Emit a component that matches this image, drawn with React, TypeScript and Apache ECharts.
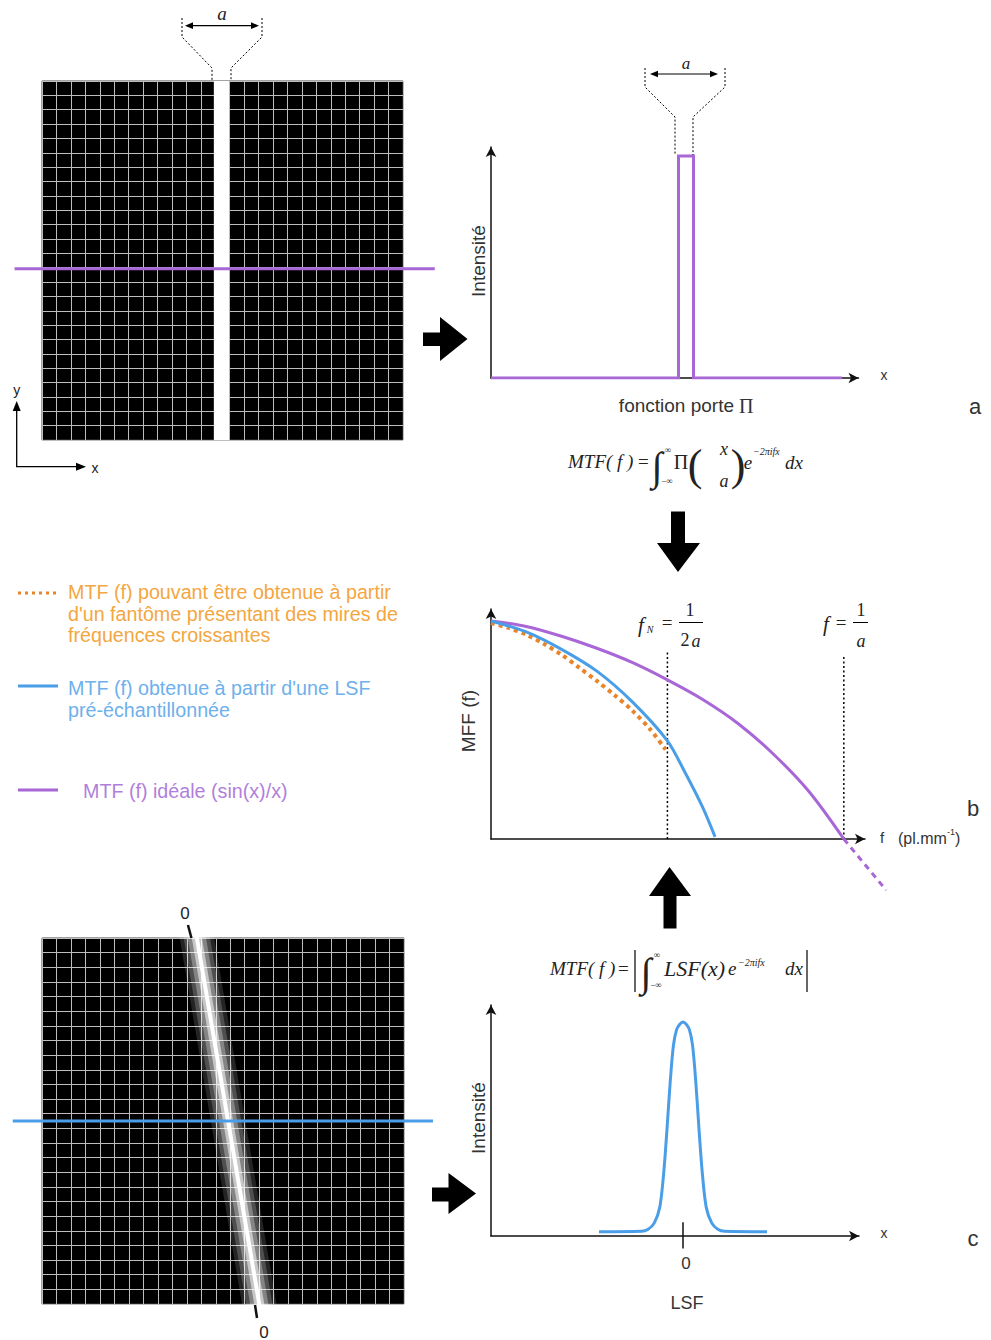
import React, { useEffect, useRef } from 'react';
import * as echarts from 'echarts';

// ---------------- data ----------------
const GRID_CELLS = 25;
// Panel a – slit phantom image (cell units)
const slitEdges = [11.9, 12.95];
const profileRowA = 11.93;
const profileSpanA = [-1.9, 27.2];
// Panel a – gate function Π (x in units of a)
const gateX = [-13, -0.5, -0.5, 0.5, 0.5, 10.4];
const gateY = [0, 0, 1, 1, 0, 0];
// Panel b – MTF curves (f in units of 1/a)
const idealF = [0, 0.1, 0.2, 0.3, 0.4, 0.5, 0.6, 0.7, 0.8, 0.9, 1.0];
const idealMTF = [1.0, 0.975, 0.93, 0.875, 0.81, 0.73, 0.64, 0.53, 0.39, 0.22, 0.0];
const idealTailF = [1.0, 1.12];
const idealTailMTF = [0.0, -0.235];
const lsfMtfF = [0, 0.1, 0.2, 0.3, 0.4, 0.5, 0.55, 0.6, 0.635];
const lsfMtfV = [1.0, 0.95, 0.87, 0.77, 0.63, 0.45, 0.305, 0.145, 0.01];
const phantomF = [0, 0.05, 0.1, 0.15, 0.2, 0.25, 0.3, 0.35, 0.4, 0.45, 0.495];
const phantomMTF = [0.99, 0.968, 0.937, 0.895, 0.845, 0.786, 0.725, 0.66, 0.59, 0.505, 0.41];
const markerF = [0.5, 1.0];
const markerTop = [0.86, 0.835];
// Panel c – slanted line phantom image (cell units)
const lineSpreadX = [10.49, 15.21];
const lineSpreadY = [26.2, -1.2];
const profileRowC = 12.5;
const profileSpanC = [-2.02, 27.0];
const zeroTickTopX = [10.08, 10.32];
const zeroTickTopY = [25.89, 25.0];
const zeroTickBotX = [14.71, 14.85];
const zeroTickBotY = [-0.07, -0.96];
// Panel c – LSF profile
const lsfX = [-5.25, -2.6, -2.2, -1.8, -1.45, -1.2, -1.0, -0.8, -0.6, -0.4, -0.2, 0, 0.2, 0.4, 0.6, 0.8, 1.0, 1.2, 1.45, 1.8, 2.2, 2.6, 5.25];
const lsfI = [0.02, 0.022, 0.03, 0.06, 0.135, 0.3, 0.5, 0.72, 0.89, 0.965, 0.99, 1.0, 0.99, 0.965, 0.89, 0.72, 0.5, 0.3, 0.135, 0.06, 0.03, 0.022, 0.02];
const lsfTickY = [-0.058, 0.064];

// ---------------- colours ----------------
const PURPLE = '#A866D6';
const BLUE = '#4A9EE8';
const ORANGE = '#E8852A';

const zip = (xs: number[], ys: number[]) => xs.map((x, i) => [x, ys[i]]);

const SANS = '"Liberation Sans", Arial, "DejaVu Sans", sans-serif';
const SERIF = '"Liberation Serif", "DejaVu Serif", serif';

function T(text: string, x: number, y: number, size: number, o: any = {}) {
  const family = o.serif ? SERIF : SANS;
  const font = `${o.italic ? 'italic ' : ''}${size}px ${family}`;
  const align = o.align || 'center';
  const va = o.va || 'middle';
  return {
    type: 'text', x, y, rotation: o.rot || 0, silent: true, z: 20,
    style: { text, x: 0, y: 0, font, fill: o.color || '#222', align, verticalAlign: va, textAlign: align, textVerticalAlign: va },
  };
}
function L(x1: number, y1: number, x2: number, y2: number, o: any = {}) {
  return { type: 'line', silent: true, z: o.z || 20, shape: { x1, y1, x2, y2 }, style: { stroke: o.color || '#000', lineWidth: o.w || 1, lineDash: o.dash || null } };
}
function PL(points: number[][], o: any = {}) {
  return { type: 'polyline', silent: true, z: 20, shape: { points }, style: { stroke: o.color || '#000', fill: null, lineWidth: o.w || 1, lineDash: o.dash || null } };
}
function PG(points: number[][], color = '#000') {
  return { type: 'polygon', silent: true, z: 20, shape: { points }, style: { fill: color, stroke: null } };
}

function buildGraphic() {
  const g: any[] = [];
  // funnel above slit (panel a image)
  g.push(PL([[182, 18], [182, 37], [212, 68], [212, 81]], { dash: [2, 2] }));
  g.push(PL([[262, 18], [262, 37], [231, 68], [231, 81]], { dash: [2, 2] }));
  g.push(L(190, 25.7, 254, 25.7, { w: 1.2 }));
  g.push(PG([[185, 25.7], [193, 22.3], [193, 29.1]]));
  g.push(PG([[259, 25.7], [251, 22.3], [251, 29.1]]));
  g.push(T('a', 222, 13, 19, { serif: true, italic: true }));
  // funnel above gate
  g.push(PL([[645, 68], [645, 87], [675, 117], [675, 155]], { dash: [2, 2] }));
  g.push(PL([[725, 68], [725, 87], [693, 117], [693, 155]], { dash: [2, 2] }));
  g.push(L(655, 74, 713, 74, { w: 1.2 }));
  g.push(PG([[650, 74], [658, 70.7], [658, 77.3]]));
  g.push(PG([[718, 74], [710, 70.7], [710, 77.3]]));
  g.push(T('a', 686, 63, 17, { serif: true, italic: true }));
  // little x / y axes of image a
  g.push(PL([[16.7, 407], [16.7, 466.7], [80, 466.7]], { w: 1.3 }));
  g.push(PG([[16.7, 401], [12.7, 411], [20.7, 411]]));
  g.push(PG([[86, 466.7], [76, 462.7], [76, 470.7]]));
  g.push(T('y', 16.7, 390, 14));
  g.push(T('x', 95, 468, 14));
  // block arrows
  g.push(PG([[423, 332.5], [440, 332.5], [440, 317], [467.5, 339], [440, 361], [440, 346], [423, 346]]));
  g.push(PG([[671, 511.5], [685, 511.5], [685, 543], [700, 543], [678, 572], [657, 543], [671, 543]]));
  g.push(PG([[663.5, 928.5], [676.5, 928.5], [676.5, 896], [691, 896], [669.5, 867], [649, 896], [663.5, 896]]));
  g.push(PG([[432, 1187.5], [448.5, 1187.5], [448.5, 1173], [476, 1193.5], [448.5, 1214], [448.5, 1201.5], [432, 1201.5]]));

  // panel a chart labels
  g.push(T('Intensité', 478, 261, 19, { rot: Math.PI / 2, color: '#333' }));
  g.push(T('x', 884, 375, 14, { color: '#333' }));
  g.push(T('fonction porte', 734, 405, 19, { align: 'right', color: '#333' }));
  g.push(T('Π', 739, 406, 20, { serif: true, align: 'left', color: '#333' }));
  g.push(T('a', 975, 406, 22, { color: '#333' }));

  // formula 1
  g.push(T('MTF( f )', 568, 461, 19, { serif: true, italic: true, align: 'left' }));
  g.push(T('=', 638, 461, 19, { serif: true, align: 'left' }));
  g.push(T('∫', 657, 466, 40, { serif: true }));
  g.push(T('∞', 668, 450, 9, { serif: true }));
  g.push(T('−∞', 667, 481, 9, { serif: true }));
  g.push(T('Π', 681, 462, 20, { serif: true }));
  g.push(T('(', 695, 465, 44, { serif: true }));
  g.push(T('x', 724, 449, 18, { serif: true, italic: true }));
  g.push(T('a', 724, 481, 18, { serif: true, italic: true }));
  g.push(T(')', 738, 465, 44, { serif: true }));
  g.push(T('e', 748, 462, 19, { serif: true, italic: true }));
  g.push(T('−2πifx', 753, 451, 10, { serif: true, italic: true, align: 'left' }));
  g.push(T('dx', 785, 462, 19, { serif: true, italic: true, align: 'left' }));

  // panel b labels
  g.push(T('MFF (f)', 468, 721, 19, { rot: Math.PI / 2, color: '#333' }));
  g.push(T('f', 641, 625, 21, { serif: true, italic: true }));
  g.push(T('N', 650, 629, 10, { serif: true, italic: true }));
  g.push(T('=', 667, 622, 19, { serif: true }));
  g.push(T('1', 690, 610, 18, { serif: true }));
  g.push(L(679, 622.5, 703, 622.5, { w: 1 }));
  g.push(T('2', 685, 640, 18, { serif: true }));
  g.push(T('a', 696, 641, 18, { serif: true, italic: true }));
  g.push(T('f', 826, 624, 21, { serif: true, italic: true }));
  g.push(T('=', 841, 622, 19, { serif: true }));
  g.push(T('1', 861, 610, 18, { serif: true }));
  g.push(L(853, 622.5, 868, 622.5, { w: 1 }));
  g.push(T('a', 861, 641, 18, { serif: true, italic: true }));
  g.push(T('f', 880, 837, 15, { align: 'left', color: '#333' }));
  g.push(T('(pl.mm', 898, 838, 16, { align: 'left', color: '#333' }));
  g.push(T('-1', 947, 832, 9, { align: 'left', color: '#333' }));
  g.push(T(')', 955, 838, 16, { align: 'left', color: '#333' }));
  g.push(T('b', 973, 808, 22, { color: '#333' }));

  // legend
  const LF = 19.7;
  g.push(L(18, 593, 58, 593, { color: ORANGE, w: 3, dash: [3, 4] }));
  g.push(T('MTF (f) pouvant être obtenue à partir', 68, 592, LF, { align: 'left', color: '#F4A640' }));
  g.push(T("d'un fantôme présentant des mires de", 68, 613.5, LF, { align: 'left', color: '#F4A640' }));
  g.push(T('fréquences croissantes', 68, 635, LF, { align: 'left', color: '#F4A640' }));
  g.push(L(18, 686, 58, 686, { color: BLUE, w: 3 }));
  g.push(T("MTF (f) obtenue à partir d'une LSF", 68, 688, LF, { align: 'left', color: '#6DB0EC' }));
  g.push(T('pré-échantillonnée', 68, 710, LF, { align: 'left', color: '#6DB0EC' }));
  g.push(L(18, 790, 58, 790, { color: PURPLE, w: 3 }));
  g.push(T('MTF (f) idéale (sin(x)/x)', 83, 791, LF, { align: 'left', color: '#B07FDC' }));

  // formula 2
  g.push(T('MTF( f )', 550, 968, 19, { serif: true, italic: true, align: 'left' }));
  g.push(T('=', 618, 968, 19, { serif: true, align: 'left' }));
  g.push(L(635, 950, 635, 992, { w: 1.2 }));
  g.push(T('∫', 646, 972, 40, { serif: true }));
  g.push(T('∞', 657, 955, 9, { serif: true }));
  g.push(T('−∞', 656, 985, 9, { serif: true }));
  g.push(T('LSF(x)', 664, 968, 22, { serif: true, italic: true, align: 'left' }));
  g.push(T('e', 728, 968, 19, { serif: true, italic: true, align: 'left' }));
  g.push(T('−2πifx', 738, 962, 10, { serif: true, italic: true, align: 'left' }));
  g.push(T('dx', 785, 968, 19, { serif: true, italic: true, align: 'left' }));
  g.push(L(807, 950, 807, 992, { w: 1.2 }));

  // panel c labels
  g.push(T('0', 185, 913, 17, { color: '#222' }));
  g.push(T('0', 264, 1332, 17, { color: '#222' }));
  g.push(T('Intensité', 478, 1118, 19, { rot: Math.PI / 2, color: '#333' }));
  g.push(T('x', 884, 1233, 14, { color: '#333' }));
  g.push(T('0', 686, 1263, 17, { color: '#333' }));
  g.push(T('LSF', 687, 1303, 18, { color: '#333' }));
  g.push(T('c', 973, 1238, 22, { color: '#333' }));
  return g;
}

function imageAxis(gridIndex: number) {
  return {
    type: 'value', gridIndex, min: 0, max: GRID_CELLS, interval: 1,
    axisLine: { show: false }, axisTick: { show: false }, axisLabel: { show: false },
    splitLine: { show: true, lineStyle: { color: '#bdbdbd', width: 1 } },
  };
}
function arrowAxis(gridIndex: number, min: number, max: number) {
  return {
    type: 'value', gridIndex, min, max,
    axisLine: { show: true, onZero: false, symbol: ['none', 'arrow'], symbolSize: [8, 10], lineStyle: { color: '#111', width: 1.5 } },
    axisTick: { show: false }, axisLabel: { show: false }, splitLine: { show: false },
  };
}
function line(idx: number, data: number[][], lineStyle: any, extra: any = {}) {
  return { type: 'line', xAxisIndex: idx, yAxisIndex: idx, data, symbol: 'none', showSymbol: false, silent: true, lineStyle, ...extra };
}

function buildOption() {
  const glow = [
    { w: 34, c: 'rgba(255,255,255,0.14)' },
    { w: 26, c: 'rgba(255,255,255,0.2)' },
    { w: 18, c: 'rgba(255,255,255,0.3)' },
    { w: 10, c: 'rgba(255,255,255,0.55)' },
    { w: 4, c: 'rgba(255,255,255,1)' },
  ];
  const spread = zip(lineSpreadX, lineSpreadY);
  return {
    animation: false,
    backgroundColor: '#ffffff',
    grid: [
      { left: 42, top: 81, width: 361, height: 359, show: true, backgroundColor: '#000', borderColor: '#444', borderWidth: 1 },
      { left: 491, top: 147, width: 367.5, height: 231 },
      { left: 491, top: 609, width: 374, height: 230 },
      { left: 42, top: 938, width: 362, height: 366, show: true, backgroundColor: '#000', borderColor: '#444', borderWidth: 1 },
      { left: 491, top: 1005, width: 368, height: 231 },
    ],
    xAxis: [imageAxis(0), arrowAxis(1, -13, 11.5), arrowAxis(2, 0, 1.06), imageAxis(3), arrowAxis(4, -12, 11)],
    yAxis: [imageAxis(0), arrowAxis(1, 0, 1.04), arrowAxis(2, 0, 1.055), imageAxis(3), arrowAxis(4, 0, 1.08)],
    graphic: { elements: buildGraphic() },
    series: [
      // panel a image: slit
      line(0, slitEdges.map((x) => [x, GRID_CELLS]), { width: 0, color: '#fff' }, { areaStyle: { color: '#fff', opacity: 1 }, itemStyle: { color: '#fff' } }),
      // panel a gate function
      line(1, zip(gateX, gateY), { width: 3, color: PURPLE, join: 'miter' }),
      // panel b
      line(2, [[markerF[0], 0], [markerF[0], markerTop[0]]], { width: 1.5, color: '#000', type: [2, 2.5] }),
      line(2, [[markerF[1], 0], [markerF[1], markerTop[1]]], { width: 1.5, color: '#000', type: [2, 2.5] }),
      line(2, zip(idealF, idealMTF), { width: 3, color: PURPLE }, { smooth: 0.3 }),
      line(2, zip(phantomF, phantomMTF), { width: 4, color: ORANGE, type: [4, 4] }, { smooth: 0.3 }),
      line(2, zip(lsfMtfF, lsfMtfV), { width: 3, color: BLUE }, { smooth: 0.3 }),
      // panel c image
      ...glow.map((s) => line(3, spread, { width: s.w, color: s.c, cap: 'butt' })),
      line(3, zip(zeroTickTopX, zeroTickTopY), { width: 2.5, color: '#111' }, { clip: false }),
      line(3, zip(zeroTickBotX, zeroTickBotY), { width: 2.5, color: '#111' }, { clip: false }),
      // panel c LSF
      line(4, zip(lsfX, lsfI), { width: 3, color: BLUE }, { smooth: 0.3 }),
      line(4, lsfTickY.map((y) => [0, y]), { width: 1.5, color: '#111' }, { clip: false }),
    ],
  };
}

export default function App() {
  const ref = useRef<HTMLDivElement>(null);
  useEffect(() => {
    if (!ref.current) return;
    const chart = echarts.init(ref.current, undefined, { renderer: 'svg' });
    const option: any = buildOption();
    chart.setOption(option);
    // lines that overhang their grids: positioned through the grids' own scales
    const px = (gi: number, pt: number[]) => chart.convertToPixel({ gridIndex: gi } as any, pt) as number[];
    const extra: any[] = [];
    const a0 = px(0, [profileSpanA[0], profileRowA]);
    const a1 = px(0, [profileSpanA[1], profileRowA]);
    extra.push(L(a0[0], a0[1], a1[0], a1[1], { color: PURPLE, w: 3, z: 30 }));
    const c0 = px(3, [profileSpanC[0], profileRowC]);
    const c1 = px(3, [profileSpanC[1], profileRowC]);
    extra.push(L(c0[0], c0[1], c1[0], c1[1], { color: BLUE, w: 3, z: 30 }));
    const t0 = px(2, [idealTailF[0], idealTailMTF[0]]);
    const t1 = px(2, [idealTailF[1], idealTailMTF[1]]);
    extra.push(L(t0[0], t0[1], t1[0], t1[1], { color: PURPLE, w: 3, dash: [6, 5], z: 30 }));
    chart.setOption({ graphic: { elements: [...option.graphic.elements, ...extra] } });
    return () => chart.dispose();
  }, []);
  return (
    <div
      ref={ref}
      style={{ position: 'absolute', left: 0, top: 0, width: 991, height: 1340, background: '#fff' }}
    />
  );
}
